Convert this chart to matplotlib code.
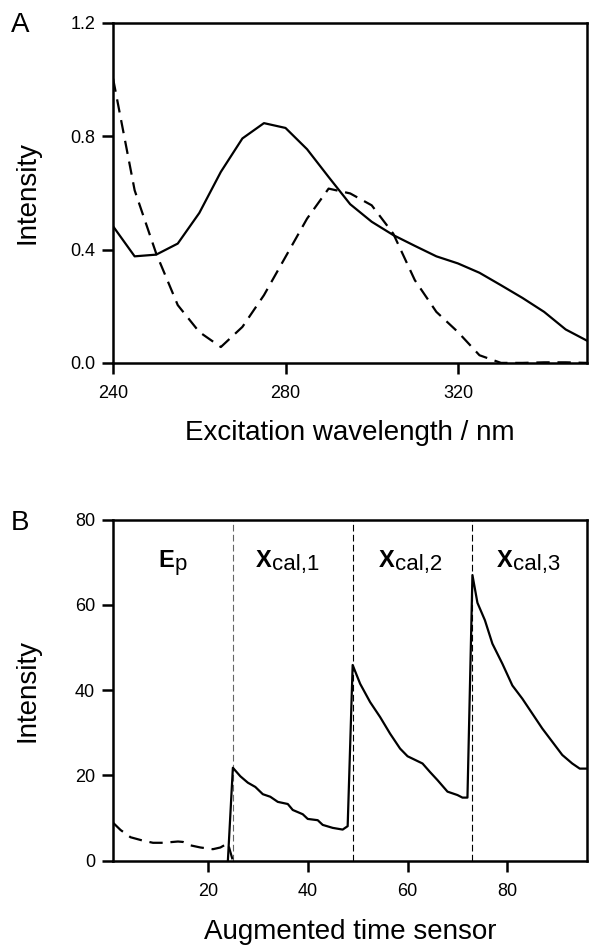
import matplotlib
matplotlib.use('Agg')
import matplotlib.pyplot as plt

plt.rcParams['font.family'] = ['Liberation Sans', 'DejaVu Sans']

# panel A: excitation spectra
wavelength = [240, 245, 250, 255, 260, 265, 270, 275, 280, 285, 290, 295,
              300, 305, 310, 315, 320, 325, 330, 335, 340, 345, 350]
spec_solid = [0.482, 0.376, 0.382, 0.421, 0.529, 0.674, 0.792, 0.846, 0.829,
              0.754, 0.656, 0.560, 0.498, 0.451, 0.413, 0.376, 0.351, 0.318,
              0.274, 0.229, 0.180, 0.118, 0.078]
spec_dashed = [1.003, 0.609, 0.386, 0.204, 0.109, 0.056, 0.127, 0.239, 0.374,
               0.509, 0.615, 0.598, 0.556, 0.456, 0.292, 0.180, 0.109, 0.027,
               0.0, 0.0, 0.002, 0.002, 0.0]

# panel B: augmented time profile
ep_t = [1, 2.5, 4.5, 7, 9, 11, 14, 15, 16.5, 18.5, 21, 22.5, 24, 25]
ep_y = [8.9, 7.2, 5.5, 4.7, 4.2, 4.2, 4.5, 4.4, 3.6, 3.1, 2.7, 3.1, 4.1, 0]

cal_t = [24, 25, 26.5, 28, 29.5, 31, 32.5, 34, 36, 37, 39, 40, 42, 43, 45, 47, 48,
         49, 50.5, 52.5, 54.5, 56.5, 58.5, 60, 63, 64.5, 66, 68, 70, 71, 72,
         73, 74, 75.5, 77, 79, 81, 83, 85, 87, 89, 91, 93, 94.5, 96]
cal_y = [0, 21.8, 19.8, 18.3, 17.3, 15.6, 15.0, 13.8, 13.3, 11.9, 10.9, 9.8, 9.5, 8.4, 7.7, 7.3, 8.1,
         45.9, 41.5, 37.2, 33.7, 29.8, 26.3, 24.5, 22.8, 20.8, 18.9, 16.2, 15.4, 14.8, 14.8,
         67.0, 60.5, 56.4, 50.9, 46.2, 41.1, 38.0, 34.5, 31.0, 27.9, 24.8, 22.8, 21.6, 21.6]

borders = [25, 49, 73]
border_colors = ['#666666', 'black', 'black']
seg_names = [('E', 'p'), ('X', 'cal,1'), ('X', 'cal,2'), ('X', 'cal,3')]
seg_label_x = [10, 29.5, 54.2, 77.8]


def style_axes(ax):
    for s in ax.spines.values():
        s.set_linewidth(1.8)
    ax.tick_params(direction='out', length=8, width=1.8, labelsize=13)
    ax.tick_params(axis='x', pad=8)
    ax.tick_params(axis='y', pad=5)


fig = plt.figure(figsize=(5.89, 9.5), dpi=100)
axA = fig.add_axes([0.192, 0.618, 0.805, 0.358])
axB = fig.add_axes([0.192, 0.094, 0.805, 0.359])

# --- A ---
axA.plot(wavelength, spec_solid, color='black', lw=1.6)
axA.plot(wavelength, spec_dashed, color='black', lw=1.6, dashes=(6, 3.5))
axA.set_xlim(240, 350)
axA.set_ylim(0, 1.2)
axA.set_xticks([240, 280, 320])
axA.set_yticks([0.0, 0.4, 0.8, 1.2])
axA.set_yticklabels(['0.0', '0.4', '0.8', '1.2'])
axA.set_xlabel('Excitation wavelength / nm', fontsize=20)
axA.set_ylabel('Intensity', fontsize=20)
axA.xaxis.set_label_coords(0.5, -0.205)
axA.xaxis.label.set_va('center')
axA.yaxis.set_label_coords(-0.154, 0.5)
style_axes(axA)

# --- B ---
for b, c in zip(borders, border_colors):
    axB.axvline(b, color=c, lw=0.8, dashes=(6, 3))
axB.plot(ep_t, ep_y, color='black', lw=1.6, dashes=(6, 3.5))
axB.plot(cal_t, cal_y, color='black', lw=1.6)
axB.set_xlim(1, 96)
axB.set_ylim(0, 80)
axB.set_xticks([20, 40, 60, 80])
axB.set_yticks([0, 20, 40, 60, 80])
axB.set_xlabel('Augmented time sensor', fontsize=20)
axB.set_ylabel('Intensity', fontsize=20)
axB.xaxis.set_label_coords(0.5, -0.21)
axB.xaxis.label.set_va('center')
axB.yaxis.set_label_coords(-0.154, 0.5)
style_axes(axB)

# segment labels, bold letter + subscript
for (main, sub), x in zip(seg_names, seg_label_x):
    t = axB.text(x, 69, main, fontsize=17, fontweight='bold', ha='left', va='baseline')
    axB.annotate(sub, xy=(1, 0), xycoords=t, xytext=(0.5, -2.5),
                 textcoords='offset points', fontsize=16, ha='left', va='bottom')

fig.text(0.018, 0.966, 'A', fontsize=20)
fig.text(0.018, 0.442, 'B', fontsize=20)

fig.savefig('out.png', dpi=100)
